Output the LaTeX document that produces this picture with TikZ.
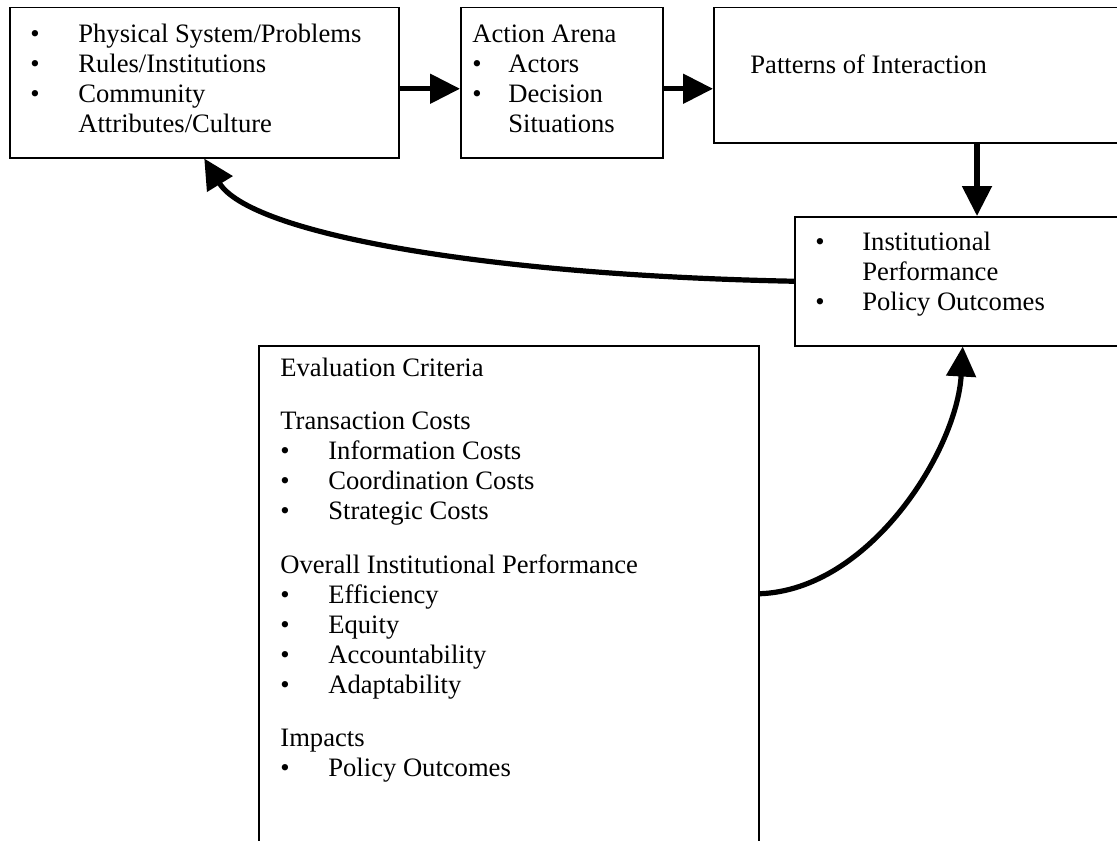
\documentclass[tikz,border=0pt]{standalone}
\usepackage{fontspec}
\setmainfont{Liberation Serif}
\usetikzlibrary{arrows.meta}
\tikzset{
  box/.style={draw, line width=0.75pt, inner sep=0pt, anchor=north west},
  txt/.style={inner sep=0pt, anchor=base west, font=\fontsize{13.3}{15}\selectfont},
  flow/.style={line width=2.6pt, -{Triangle[length=15pt,width=14.5pt]}},
}
\begin{document}
\begin{tikzpicture}[x=0.5pt,y=-0.5pt]
\useasboundingbox (0,0) rectangle (1117,840);
\clip (0,0) rectangle (1117,840);
% boxes
\node[box, minimum width=194.5pt, minimum height=75pt] (A) at (9,7) {};
\node[box, minimum width=101pt, minimum height=75pt] (B) at (460,7) {};
\node[box, minimum width=215pt, minimum height=67.5pt] (C) at (713,7) {};
\node[box, minimum width=175pt, minimum height=64.5pt] (D) at (794,216) {};
\node[box, minimum width=250pt, minimum height=260pt] (E) at (258,345) {};
% texts
\node[txt] (tA) at (30,43) {\begin{tabular}[t]{@{}p{24pt}@{}l@{}}
\textbullet & Physical System/Problems\\
\textbullet & Rules/Institutions\\
\textbullet & Community\\
 & Attributes/Culture
\end{tabular}};
\node[txt] (tB) at (472,43) {\begin{tabular}[t]{@{}p{18pt}@{}l@{}}
\multicolumn{2}{@{}l@{}}{Action Arena}\\
\textbullet & Actors\\
\textbullet & Decision\\
 & Situations
\end{tabular}};
\node[txt] (tC) at (750,74) {Patterns of Interaction};
\node[txt] (tD) at (815,250) {\begin{tabular}[t]{@{}p{23.5pt}@{}l@{}}
\textbullet & Institutional\\
 & Performance\\
\textbullet & Policy Outcomes
\end{tabular}};
\node[txt] (tE) at (280,376) {\begin{tabular}[t]{@{}p{24pt}@{}l@{}}
\multicolumn{2}{@{}l@{}}{Evaluation Criteria}\\[11.5pt]
\multicolumn{2}{@{}l@{}}{Transaction Costs}\\
\textbullet & Information Costs\\
\textbullet & Coordination Costs\\
\textbullet & Strategic Costs\\[12pt]
\multicolumn{2}{@{}l@{}}{Overall Institutional Performance}\\
\textbullet & Efficiency\\
\textbullet & Equity\\
\textbullet & Accountability\\
\textbullet & Adaptability\\[11.5pt]
\multicolumn{2}{@{}l@{}}{Impacts}\\
\textbullet & Policy Outcomes
\end{tabular}};
% connectors
\draw[flow] ([yshift=-3pt]A.east) coordinate (a1) -- (a1 -| B.west);
\draw[flow] ([yshift=-3pt]B.east) coordinate (b1) -- (b1 -| C.west);
\coordinate (cd) at (977,142);
\draw[flow] (cd) -- (cd |- D.north);
\draw[flow] (D.west) .. controls (480,275) and (250,233) .. (A.south);
\draw[flow] ([yshift=6pt]E.east) .. controls (870,590) and (957,450) .. ([xshift=-3.5pt]D.south);
\end{tikzpicture}
\end{document}
